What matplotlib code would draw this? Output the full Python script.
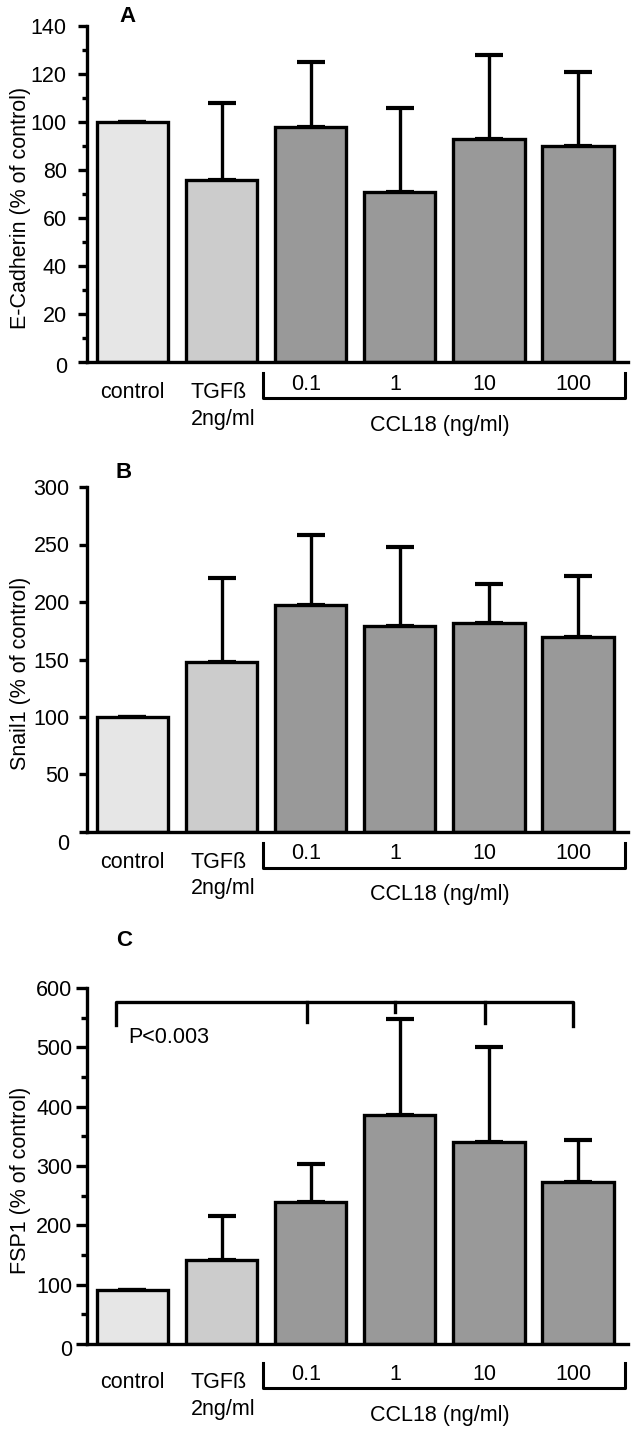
import matplotlib
matplotlib.use("Agg")
import matplotlib.pyplot as plt
from matplotlib.lines import Line2D
from matplotlib.ticker import MultipleLocator
import matplotlib.transforms as mtransforms

plt.rcParams["font.family"] = ["Liberation Sans", "DejaVu Sans"]

FIG_W, FIG_H = 638, 1431
FS = 15.5

group_labels = ["control", "TGFß", "0.1", "1", "10", "100"]
ecad_mean = [100, 76, 98, 71, 93, 90]
ecad_err = [0, 32, 27, 35, 35, 31]
snail_mean = [100, 148, 197, 179, 182, 170]
snail_err = [0, 73, 61, 69, 34, 53]
fsp_mean = [91, 141, 239, 386, 341, 273]
fsp_err = [0, 74, 64, 162, 159, 71]

bar_colors = ["#e6e6e6", "#cccccc", "#999999", "#999999", "#999999", "#999999"]

# bracket over panel C (x in bar units, y in data units)
sig_x = [-0.18, 1.96, 2.95, 3.96, 4.94]
sig_drop = [537, 543, 560, 541, 536]
sig_top = 577
sig_text = "P<0.003"

LW = 2.4


def px_to_axes(ax, px):
    return -px / (ax.get_position().height * FIG_H)


def draw_panel(fig, rect, mean, err, ylim, major, minor, ylabel, letter, letter_xy,
               tick_pad, tick_len, shift, zero_drop):
    ax = fig.add_axes(rect)
    x = list(range(len(mean)))
    ax.bar(x, mean, width=0.8, color=bar_colors, edgecolor="black", linewidth=LW, zorder=2)
    ax.errorbar(x, mean, yerr=[[0] * len(err), err], fmt="none", ecolor="black",
                elinewidth=LW, capsize=10, capthick=LW + 0.6, zorder=1)
    ax.set_xlim(-0.51, 5.56)
    ax.set_ylim(*ylim)
    for s in ("top", "right"):
        ax.spines[s].set_visible(False)
    for s in ("left", "bottom"):
        ax.spines[s].set_linewidth(LW)
    ax.set_xticks([])
    ax.yaxis.set_major_locator(MultipleLocator(major))
    if minor:
        ax.yaxis.set_minor_locator(MultipleLocator(minor))
    ax.tick_params(axis="y", which="major", length=tick_len, width=LW, pad=tick_pad, labelsize=FS)
    ax.tick_params(axis="y", which="minor", length=tick_len * 0.5, width=LW)
    ticks = list(range(ylim[0], ylim[1] + 1, major))
    ax.set_yticks(ticks)
    ax.set_yticklabels([""] + [str(t) for t in ticks[1:]])
    ax.annotate("0", xy=(0, 0), xycoords=("axes fraction", "data"),
                xytext=(-(tick_len + tick_pad), -zero_drop), textcoords="offset points",
                ha="right", va="center", fontsize=FS)

    ax_h = ax.get_position().height * FIG_H
    ax.set_ylabel(ylabel, fontsize=FS)
    ax.yaxis.set_label_coords(-0.103, 0.5 - 14 / ax_h)

    tr = mtransforms.blended_transform_factory(ax.transData, ax.transAxes)
    y = lambda px: px_to_axes(ax, px + shift)
    ax.text(0, y(31), group_labels[0], transform=tr, ha="center", va="center", fontsize=FS)
    ax.text(0.65, y(31), group_labels[1], transform=tr, ha="left", va="center", fontsize=FS)
    ax.text(0.65, y(57), "2ng/ml", transform=tr, ha="left", va="center", fontsize=FS)
    for i in range(2, 6):
        ax.text(i - 0.05, y(22), group_labels[i], transform=tr, ha="center", va="center", fontsize=FS)
    ax.text(3.45, y(63), "CCL18 (ng/ml)", transform=tr, ha="center", va="center", fontsize=FS)
    ax.add_line(Line2D([1.46, 1.46, 5.53, 5.53], [y(11), y(36), y(36), y(11)],
                       transform=tr, color="black", linewidth=2.2, clip_on=False))

    fig.text(letter_xy[0] / FIG_W, 1 - letter_xy[1] / FIG_H, letter,
             fontsize=16, fontweight="bold", ha="center", va="center")
    return ax


fig = plt.figure(figsize=(FIG_W / 100, FIG_H / 100), dpi=100)

left = 87 / FIG_W
width = (628 - 87) / FIG_W


def rect(top_px, bottom_px):
    return [left, 1 - bottom_px / FIG_H, width, (bottom_px - top_px) / FIG_H]


draw_panel(fig, rect(26, 362), ecad_mean, ecad_err, (0, 140), 20, 10,
           "E-Cadherin (% of control)", "A", (127, 17), 8.0, 6.5, 0, 4)
draw_panel(fig, rect(487, 832), snail_mean, snail_err, (0, 300), 50, None,
           "Snail1 (% of control)", "B", (124, 473), 6.5, 6.0, 0, 9)
axc = draw_panel(fig, rect(988, 1344), fsp_mean, fsp_err, (0, 600), 100, 50,
                 "FSP1 (% of control)", "C", (124, 941), 2.5, 8.0, 8, 5)

axc.add_line(Line2D([sig_x[0], sig_x[0], sig_x[-1], sig_x[-1]],
                    [sig_drop[0], sig_top, sig_top, sig_drop[-1]],
                    color="black", linewidth=LW, clip_on=False))
for sx, sd in zip(sig_x[1:-1], sig_drop[1:-1]):
    axc.add_line(Line2D([sx, sx], [sig_top, sd], color="black", linewidth=LW, clip_on=False))
axc.text(-0.05, 516, sig_text, ha="left", va="center", fontsize=FS)

fig.savefig("out.png", dpi=100)
